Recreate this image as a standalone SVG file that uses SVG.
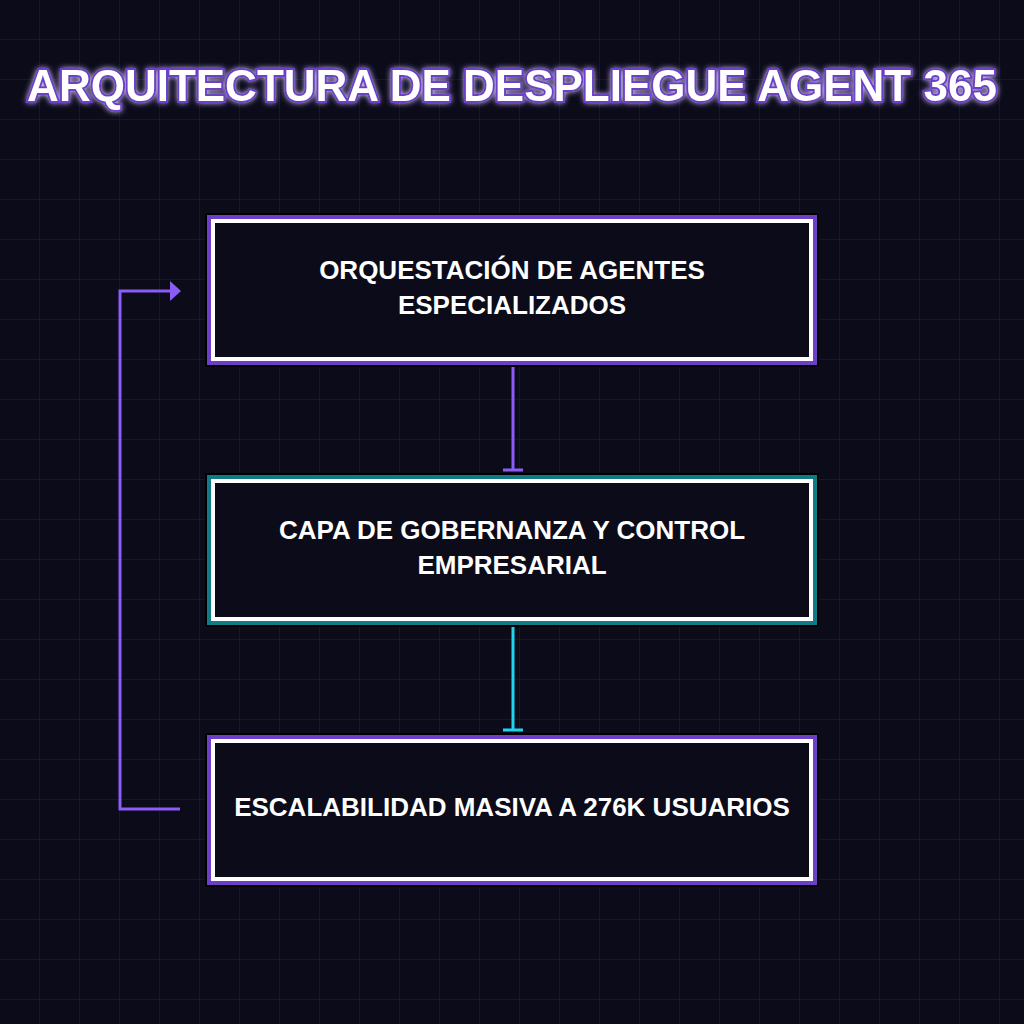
<svg xmlns="http://www.w3.org/2000/svg" width="1024" height="1024" viewBox="0 0 1024 1024">
<defs>
<pattern id="grid" width="40" height="40" patternUnits="userSpaceOnUse"><path d="M40 0V40M0 40H40" fill="none" stroke="#1a1a2e" stroke-width="1.5"/></pattern>
<marker id="arr" markerWidth="12" markerHeight="22" refX="2" refY="11" orient="auto" markerUnits="userSpaceOnUse"><path d="M0 1L11 11L0 21Z" fill="#8b5cf6"/></marker>
<filter id="glow" x="-10%" y="-50%" width="120%" height="200%"><feGaussianBlur stdDeviation="3" result="b"/><feMerge><feMergeNode in="b"/><feMergeNode in="SourceGraphic"/></feMerge></filter>
</defs>
<style>
.lbl{font-family:"Liberation Sans",Arial,sans-serif;font-weight:bold;font-size:26px;fill:#fff;text-anchor:middle}
.white{fill:#0b0b19;stroke:#fff;stroke-width:4}
</style>
<rect width="1024" height="1024" fill="#0b0b19"/>
<rect width="1024" height="1024" fill="url(#grid)"/>
<text x="512" y="101" font-family="Liberation Sans,Arial,sans-serif" font-weight="bold" font-size="44" fill="#fff" stroke="#6d3fc8" stroke-width="4" paint-order="stroke" text-anchor="middle" filter="url(#glow)">ARQUITECTURA DE DESPLIEGUE AGENT 365</text>
<g id="connectors" fill="none" stroke-width="3">
<path d="M513 360V470M503 470H523" stroke="#8b5cf6"/>
<path d="M513 620V730M503 730H523" stroke="#22d3ee"/>
<path d="M180 809H120V291H172" stroke="#8b5cf6" marker-end="url(#arr)"/>
</g>
<g id="n1">
<rect x="205" y="213" width="614" height="154" fill="#000"/>
<rect x="207" y="215" width="610" height="150" fill="#6d3fc8"/>
<rect x="213" y="221" width="598" height="138" class="white"/>
<text class="lbl" x="512" y="279">ORQUESTACIÓN DE AGENTES</text>
<text class="lbl" x="512" y="314">ESPECIALIZADOS</text>
</g>
<g id="n2">
<rect x="205" y="473" width="614" height="154" fill="#000"/>
<rect x="207" y="475" width="610" height="150" fill="#117a86"/>
<rect x="213" y="481" width="598" height="138" class="white"/>
<text class="lbl" x="512" y="539">CAPA DE GOBERNANZA Y CONTROL</text>
<text class="lbl" x="512" y="574">EMPRESARIAL</text>
</g>
<g id="n3">
<rect x="205" y="733" width="614" height="154" fill="#000"/>
<rect x="207" y="735" width="610" height="150" fill="#6d3fc8"/>
<rect x="213" y="741" width="598" height="138" class="white"/>
<text class="lbl" x="512" y="816">ESCALABILIDAD MASIVA A 276K USUARIOS</text>
</g>
</svg>
